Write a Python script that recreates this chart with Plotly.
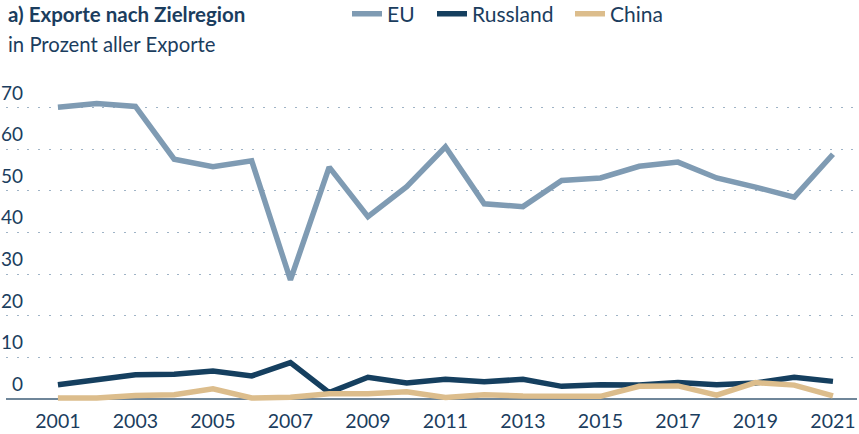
import plotly.graph_objects as go

years = list(range(2001, 2022))
eu = [70.1, 71.0, 70.3, 57.6, 55.8, 57.2, 28.6, 55.7, 43.8, 51.0, 60.6,
      46.9, 46.2, 52.5, 53.1, 55.9, 56.9, 53.1, 50.9, 48.5, 58.8]
russland = [3.4, 4.6, 5.8, 5.9, 6.7, 5.5, 8.7, 1.5, 5.2, 3.8, 4.7,
            4.1, 4.7, 3.0, 3.4, 3.3, 3.9, 3.4, 3.8, 5.2, 4.2]
china = [0.2, 0.2, 0.8, 1.0, 2.4, 0.2, 0.4, 1.2, 1.2, 1.7, 0.3,
         1.0, 0.7, 0.6, 0.6, 3.0, 3.1, 0.9, 3.9, 3.3, 0.7]
y_ticks = [0, 10, 20, 30, 40, 50, 60, 70]
x_ticks = list(range(2001, 2022, 2))

TEXT = "#1b3d5e"
FONT = "Lato"
W, H = 859, 434
L, R, T, B = 6, 2, 91, 31
PW = W - L - R
PH = H - T - B


def py(px):
    return (H - B - px) / PH


def px_(x):
    return (x - L) / PW


fig = go.Figure()
series = [("EU", eu, "#7f9bb3", "legend", 347),
          ("Russland", russland, "#153f5f", "legend2", 432),
          ("China", china, "#dcbd8c", "legend3", 570)]
legends = {}
for name, vals, col, lg, lx in series:
    fig.add_trace(go.Scatter(x=years, y=vals, name=name, mode="lines", legend=lg,
                             line=dict(color=col, width=5.5)))
    legends[lg] = dict(orientation="h", x=px_(lx), xanchor="left",
                       yref="container", y=1 - 14 / H, yanchor="middle",
                       font=dict(family=FONT, size=21, color=TEXT),
                       itemwidth=30, bgcolor="rgba(0,0,0,0)")

fig.update_layout(
    width=W, height=H,
    margin=dict(l=L, r=R, t=T, b=B),
    paper_bgcolor="white", plot_bgcolor="white",
    font=dict(family=FONT, size=18, color=TEXT),
    showlegend=True,
    xaxis=dict(range=[1999.66, 2021.62], tickvals=x_ticks,
               showgrid=False, zeroline=False, showline=False,
               ticks="", ticklabelstandoff=4,
               tickfont=dict(family=FONT, size=19.5, color=TEXT)),
    yaxis=dict(range=[-1, 74], tickvals=y_ticks, showticklabels=False,
               showgrid=True, gridcolor="#9fb3c6", griddash="2px,8.7px", gridwidth=1.3,
               zeroline=True, zerolinecolor="#6f8699", zerolinewidth=1.5,
               showline=False, ticks=""),
    **legends,
)

annotations = [
    dict(text="<b>a) Exporte nach Zielregion</b>", xref="paper", yref="paper",
         x=0, xanchor="left", y=py(14), yanchor="middle", showarrow=False,
         font=dict(family=FONT, size=20.5, color=TEXT)),
    dict(text="in Prozent aller Exporte", xref="paper", yref="paper",
         x=0, xanchor="left", y=py(44), yanchor="middle", showarrow=False,
         font=dict(family=FONT, size=20.3, color=TEXT)),
]
for v in y_ticks:
    annotations.append(dict(text=str(v), xref="paper", yref="y", x=0, xshift=19,
                            xanchor="right", y=v, yanchor="bottom", yshift=2,
                            showarrow=False,
                            font=dict(family=FONT, size=19, color=TEXT)))
fig.update_layout(annotations=annotations)

fig.write_html("out.html", config={"displayModeBar": False},
               post_script="document.body.style.margin='0';")
